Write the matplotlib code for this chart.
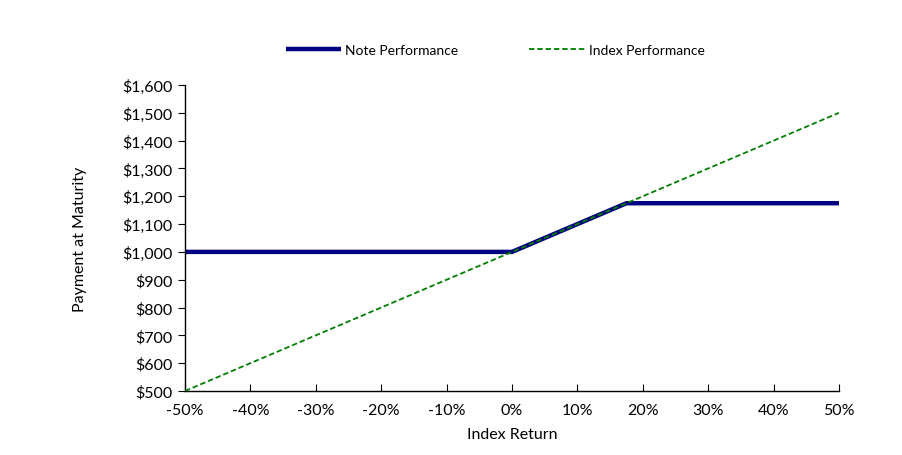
import matplotlib

matplotlib.use("Agg")
import matplotlib.pyplot as plt
from matplotlib.ticker import FuncFormatter

plt.rcParams["font.family"] = ["Lato", "DejaVu Sans"]

# index return (%) and payment at maturity ($)
note_x = [-50, 0, 17.5, 50]
note_y = [1000, 1000, 1175, 1175]
index_x = [-50, 50]
index_y = [500, 1500]

x_ticks = [-50, -40, -30, -20, -10, 0, 10, 20, 30, 40, 50]
y_ticks = [500, 600, 700, 800, 900, 1000, 1100, 1200, 1300, 1400, 1500, 1600]

fig = plt.figure(figsize=(9.03, 4.56), dpi=100)
ax = fig.add_axes([0.2049, 0.1404, 0.7242, 0.6710])

ax.plot(note_x, note_y, color="#000080", lw=3.2, solid_capstyle="butt",
        label="Note Performance", zorder=2)
ax.plot(index_x, index_y, color="#008000", lw=1.3, ls=(0, (3, 1.6)),
        label="Index Performance", zorder=3)

ax.set_xlim(-50, 50)
ax.set_ylim(500, 1600)
ax.set_xticks(x_ticks)
ax.set_yticks(y_ticks)
ax.xaxis.set_major_formatter(FuncFormatter(lambda v, _: f"{v:.0f}%"))
ax.yaxis.set_major_formatter(FuncFormatter(lambda v, _: f"${v:,.0f}"))
ax.tick_params(axis="x", direction="in", length=5, labelsize=11.5, pad=9)
ax.tick_params(axis="y", direction="out", length=5, labelsize=11.5, pad=4)

for side in ("top", "right"):
    ax.spines[side].set_visible(False)
for side in ("left", "bottom"):
    ax.spines[side].set_linewidth(1.0)

ax.set_xlabel("Index Return", fontsize=11.5, labelpad=7)
ax.set_ylabel("Payment at Maturity", fontsize=11.5, labelpad=25)

fig.legend(loc="center", bbox_to_anchor=(0.5483, 0.889), ncol=2, frameon=False,
           fontsize=10, handlelength=4, handletextpad=0.3, columnspacing=5.07)

fig.savefig("out.png", dpi=100)
